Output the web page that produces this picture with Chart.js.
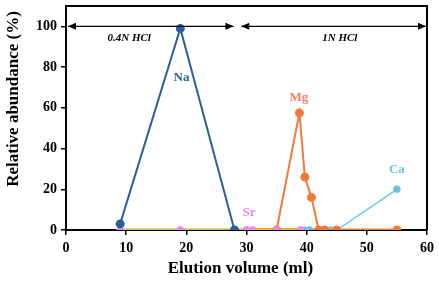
<!DOCTYPE html>
<html><head><meta charset="utf-8">
<script src="https://cdn.jsdelivr.net/npm/chart.js@4"></script>
<style>html,body{margin:0;padding:0;background:#fff}#wrap{width:439px;height:282px}</style>
</head><body><div id="wrap"><canvas id="c" width="439" height="282"></canvas></div>
<script>
// ---- data ----
const naX = [9, 19, 28];
const naY = [3, 99, 0];
const srX = [9, 19, 28, 30, 31, 35, 39];
const srY = [0, 0, 0, 0, 0, 0, 0];
const mgX = [35, 38.8, 39.7, 40.8, 42, 43, 45, 55];
const mgY = [0, 57.5, 26, 16, 0, 0, 0, 0];
const caX = [39.8, 40.5, 44, 45, 55];
const caY = [0, 0, 0, 0, 20];
const baseX = [9, 55];
const baseY = [0, 0];
const goldX = [30, 39];
const goldY = [0, 0];
const xTicks = [0, 10, 20, 30, 40, 50, 60];
const yTicks = [0, 20, 40, 60, 80, 100];
const xTitle = 'Elution volume (ml)';
const yTitle = 'Relative abundance (%)';
const seriesLabels = [
  {text: 'Na', x: 19.2, y: 75, color: '#2c5f99'},
  {text: 'Mg', x: 38.7, y: 65, color: '#f0806a'},
  {text: 'Sr', x: 30.4, y: 8.5, color: '#ee88ee'},
  {text: 'Ca', x: 55, y: 29.5, color: '#66c8ee'}
];
const arrows = [
  {from: 0, to: 28, y: 100, label: '0.4N HCl', lx: 10.5, ly: 94},
  {from: 28.8, to: 60, y: 100, label: '1N HCl', lx: 45.5, ly: 94}
];

const pts = (xs, ys) => xs.map((x, i) => ({x, y: ys[i]}));

const overlay = {
  id: 'overlay',
  afterDatasetsDraw(chart) {
    const {ctx, chartArea: a, scales: {x, y}} = chart;
    ctx.save();
    ctx.strokeStyle = '#000'; ctx.lineWidth = 2;
    ctx.beginPath();
    ctx.moveTo(a.left, a.top); ctx.lineTo(a.right, a.top); ctx.lineTo(a.right, a.bottom);
    ctx.stroke();
    // arrows
    ctx.lineWidth = 1.2; ctx.fillStyle = '#000';
    arrows.forEach(ar => {
      const x1 = x.getPixelForValue(ar.from) + 2, x2 = x.getPixelForValue(ar.to) - 1, yy = y.getPixelForValue(ar.y);
      ctx.beginPath(); ctx.moveTo(x1, yy); ctx.lineTo(x2, yy); ctx.stroke();
      ctx.beginPath(); ctx.moveTo(x1, yy); ctx.lineTo(x1 + 8, yy - 3.5); ctx.lineTo(x1 + 8, yy + 3.5); ctx.closePath(); ctx.fill();
      ctx.beginPath(); ctx.moveTo(x2, yy); ctx.lineTo(x2 - 8, yy - 3.5); ctx.lineTo(x2 - 8, yy + 3.5); ctx.closePath(); ctx.fill();
      ctx.font = 'italic bold 11px "Liberation Serif"';
      ctx.textAlign = 'center'; ctx.textBaseline = 'middle';
      ctx.fillText(ar.label, x.getPixelForValue(ar.lx), y.getPixelForValue(ar.ly));
    });
    seriesLabels.forEach(l => {
      ctx.font = 'bold 13px "Liberation Serif"';
      ctx.fillStyle = l.color; ctx.textAlign = 'center'; ctx.textBaseline = 'middle';
      ctx.fillText(l.text, x.getPixelForValue(l.x), y.getPixelForValue(l.y));
    });
    // axis titles
    ctx.fillStyle = '#000';
    ctx.font = 'bold 17px "Liberation Serif"';
    ctx.textAlign = 'center'; ctx.textBaseline = 'middle';
    ctx.fillText(xTitle, a.left + (a.right - a.left) * 0.483, 269);
    ctx.translate(14, 99);
    ctx.rotate(-Math.PI / 2);
    ctx.fillText(yTitle, 0, 0);
    ctx.restore();
  }
};

const tickFont = {family: '"Liberation Serif"', weight: 'bold', size: 14};

new Chart(document.getElementById('c'), {
  type: 'scatter',
  data: {
    datasets: [
      {label: 'Na', data: pts(naX, naY), showLine: true, borderColor: '#2c5f99', backgroundColor: '#2c5f99', borderWidth: 2, pointRadius: 3.5, order: 0},
      {label: 'Sr', data: pts(srX, srY), showLine: false, borderColor: '#ee88ee', backgroundColor: '#ee88ee', pointRadius: 3.5, order: 1},
      {label: 'Mg', data: pts(mgX, mgY), showLine: true, borderColor: '#f07a3a', backgroundColor: '#f07a3a', borderWidth: 2, pointRadius: 3.5, order: 2},
      {label: 'Ca', data: pts(caX, caY), showLine: true, borderColor: '#66c8ee', backgroundColor: '#80b8b8', borderWidth: 1.5, pointRadius: 3, order: 3},
      {label: 'gold', data: pts(goldX, goldY), showLine: true, borderColor: '#f0b020', borderWidth: 4, pointRadius: 0, order: 4},
      {label: 'base', data: pts(baseX, baseY), showLine: true, borderColor: '#c8c060', borderWidth: 3.5, pointRadius: 0, order: 5}
    ]
  },
  options: {
    responsive: false, animation: false,
    layout: {padding: {top: 4, right: 12, left: 0, bottom: 0}},
    plugins: {legend: {display: false}, tooltip: {enabled: false}},
    scales: {
      x: {
        type: 'linear', min: 0, max: 60,
        afterBuildTicks: s => { s.ticks = xTicks.map(v => ({value: v})); },
        afterFit: s => { s.height = 52; s.paddingLeft = 0; s.paddingRight = 0; },
        grid: {display: true, drawOnChartArea: false, drawTicks: true, tickLength: 5, color: '#000', lineWidth: 1.5},
        border: {display: true, color: '#000', width: 2},
        ticks: {color: '#000', font: tickFont, padding: 5, maxRotation: 0},
        title: {display: false}
      },
      y: {
        type: 'linear', min: 0, max: 110,
        afterBuildTicks: s => { s.ticks = yTicks.map(v => ({value: v})); },
        afterFit: s => { s.width = 66; s.paddingTop = 0; s.paddingBottom = 0; },
        grid: {display: true, drawOnChartArea: false, drawTicks: true, tickLength: 5, color: '#000', lineWidth: 1.5},
        border: {display: true, color: '#000', width: 2},
        ticks: {color: '#000', font: tickFont, padding: 4},
        title: {display: false}
      }
    }
  },
  plugins: [overlay]
});
</script></body></html>
